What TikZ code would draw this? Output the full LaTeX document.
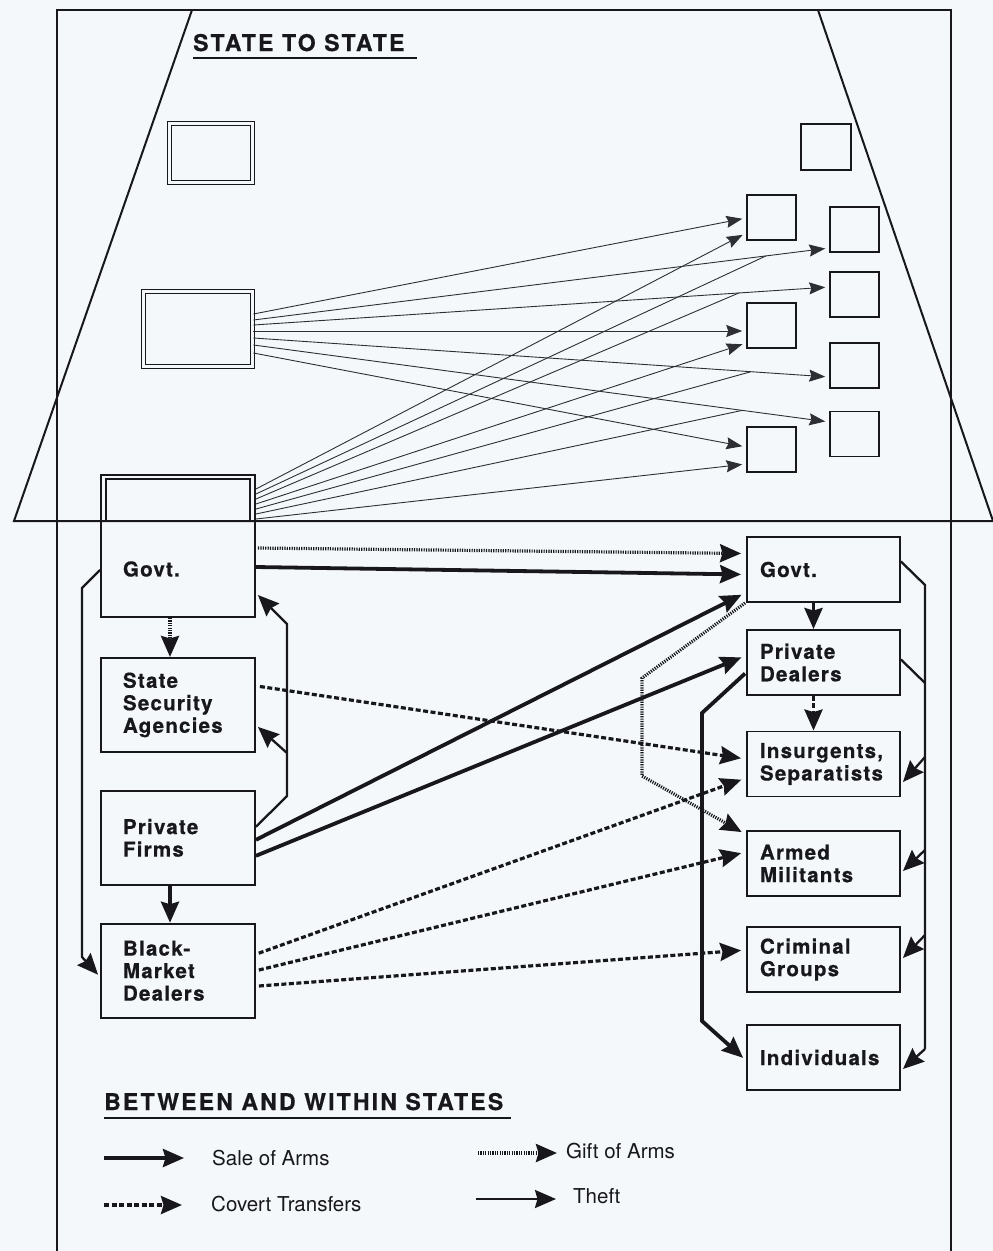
\documentclass[tikz,border=0pt]{standalone}
\usepackage{fontspec}
\setmainfont{TeX Gyre Heros}
\newfontfamily\labelfont[LetterSpace=6, FakeBold=0.6]{TeX Gyre Heros}
\newfontfamily\headfont[LetterSpace=9.5, FakeBold=0.6]{TeX Gyre Heros}
\usetikzlibrary{positioning, arrows.meta, calc}
\definecolor{Ink}{RGB}{24, 24, 28}
\definecolor{FanInk}{RGB}{45, 47, 52}
\definecolor{Paper}{RGB}{244, 248, 251}
\tikzset{
    % Page border and region outlines
    borderline/.style={
        draw=Ink,
        line width=1.2pt
    },
    regionline/.style={
        draw=Ink,
        line width=2pt
    },
    % Double ruled supplying state
    statebox/.style={
        draw=Ink,
        double=Paper,
        double distance=2.6pt,
        line width=1.4pt,
        rectangle,
        inner sep=0pt
    },
    % Small receiving state
    smallbox/.style={
        draw=Ink,
        line width=1.5pt,
        rectangle,
        inner sep=0pt,
        minimum width=49pt,
        minimum height=45pt
    },
    % Actor box (left column)
    actor/.style={
        draw=Ink,
        line width=1.9pt,
        rectangle,
        inner xsep=22pt,
        text width=110pt,
        minimum height=94pt,
        align=left,
        text=Ink,
        font=\labelfont\bfseries\fontsize{20.5}{22.5}\selectfont
    },
    % Actor box (right column)
    actorR/.style={
        actor,
        inner xsep=13pt,
        text width=127pt,
        minimum height=65pt
    },
    % Section headings
    heading/.style={
        inner sep=0pt,
        text=Ink,
        font=\headfont\bfseries\fontsize{23}{26}\selectfont
    },
    % Key texts
    keytext/.style={
        inner sep=0pt,
        text=Ink,
        font=\fontsize{20.5}{24}\selectfont
    },
    % Arrow heads
    bighead/.tip={Stealth[length=21pt, width=18pt, inset=2.5pt]},
    smallhead/.tip={Stealth[length=16pt, width=12pt, inset=2pt]},
    % State to state transfers
    fan/.style={
        draw=FanInk,
        line width=0.9pt,
        -smallhead,
        shorten >=4pt
    },
    fanline/.style={
        draw=FanInk,
        line width=0.9pt
    },
    % Sale of arms
    sale/.style={
        draw=Ink,
        line width=3.8pt,
        -bighead
    },
    % Covert transfers
    covert/.style={
        draw=Ink,
        line width=3.2pt,
        dash pattern=on 5pt off 2.5pt,
        -bighead
    },
    % Gift of arms
    gift/.style={
        draw=Ink,
        line width=3.2pt,
        dash pattern=on 1.2pt off 1.2pt,
        -bighead
    },
    % Theft
    theft/.style={
        draw=Ink,
        line width=2.3pt,
        -bighead
    },
    theftline/.style={
        draw=Ink,
        line width=2.3pt
    }
}

\begin{document}
\begin{tikzpicture}[x=1pt, y=-1pt]

    % background and page size
    \fill[Paper] (0,0) rectangle (993,1251);
    \useasboundingbox (0,0) rectangle (993,1251);

    % ==========================================
    % FRAME: BORDER AND STATE TO STATE TRAPEZIUM
    % ==========================================
    \draw[borderline] (57,1251) -- (57,10) -- (951,10) -- (951,1251);
    \draw[regionline] (192,10) -- (14,521) -- (993,521);
    \draw[regionline] (818,10) -- (993,521);

    % ==========================================
    % TOP DIAGRAM: STATE TO STATE
    % ==========================================
    \node[heading, anchor=base west] (title1) at (193,51) {STATE TO STATE};
    \draw[draw=Ink, line width=2pt] ($(title1.base west)+(0,7)$) -- ($(title1.base east)+(12,7)$);

    % Supplying states
    \node[statebox, minimum width=82.5pt, minimum height=59.5pt] (s1) at (211,153) {};
    \node[statebox, minimum width=109.5pt, minimum height=75.5pt] (s2) at (198,329) {};
    \node[draw=Ink, line width=1.9pt, minimum width=154pt, minimum height=46pt, inner sep=0pt] (s3) at (178,498) {};
    \draw[draw=Ink, line width=1.4pt] ($(s3.south west)+(6,-1)$) |- ($(s3.north)+(0,5)$) -| ($(s3.south east)+(-6,-1)$);

    % Receiving states
    \node[smallbox, minimum width=50pt, minimum height=46pt] (b0) at (826,147) {};
    \foreach \nm/\y in {a1/217.5, a2/325.5, a3/449.5}
        \node[smallbox] (\nm) at (771.5,\y) {};
    \foreach \nm/\y in {b1/229.5, b2/294.5, b3/365.5, b4/434}
        \node[smallbox] (\nm) at (854.5,\y) {};

    % Transfers from the second state
    \foreach \tgt/\ys/\yt in {a1/-15/0.5, a2/2/5.5, a3/24/-2.5}
        \draw[fan] ($(s2.east)+(0,\ys)$) -- ($(\tgt.west)+(0,\yt)$);
    \foreach \tgt/\ys/\yt/\p in {b1/-9/18.5/0.89, b2/-4/-7.5/0.843, b3/9/11.5/0.864, b4/16/-12/0.849}
        \draw[fan] ($(s2.east)+(0,\ys)$) -- coordinate[pos=\p] (j\tgt) ($(\tgt.west)+(0,\yt)$);

    % Transfers from the third state
    \foreach \tgt/\ys/\yt in {a1/-9/15.5, a2/6/17.5, a3/21/14.5}
        \draw[fan] ($(s3.east)+(0,\ys)$) -- ($(\tgt.west)+(0,\yt)$);
    \foreach \tgt/\ys in {b1/-4, b2/1, b3/11, b4/16}
        \draw[fanline] ($(s3.east)+(0,\ys)$) -- (j\tgt);

    % ==========================================
    % BOTTOM DIAGRAM: BETWEEN AND WITHIN STATES
    % ==========================================

    % Supplier side
    \node[actor, minimum height=96pt] (gl) at (178,569) {Govt.};
    \node[actor, below=39pt of gl] (ssa) {State\\Security\\Agencies};
    \node[actor, below=37pt of ssa] (pf) {Private\\Firms};
    \node[actor, below=37pt of pf] (bmd) {Black-\\Market\\Dealers};

    % Recipient side
    \node[actorR] (gr) at (823.5,569.5) {Govt.};
    \node[actorR] (pd) at (823.5,662.5) {Private\\Dealers};
    \node[actorR] (ins) at (823.5,764) {Insurgents,\\Separatists};
    \node[actorR] (am) at (823.5,863.5) {Armed\\Militants};
    \node[actorR] (cg) at (823.5,959.5) {Criminal\\Groups};
    \node[actorR] (ind) at (823.5,1057.5) {Individuals};

    % Govt. to Govt.
    \draw[gift, shorten <=2pt, shorten >=5pt] ($(gl.east)+(0,-21)$) -- ($(gr.west)+(0,-16)$);
    \draw[sale, shorten >=5pt] ($(gl.east)+(0,-2)$) -- ($(gr.west)+(0,5)$);

    % Within the supplier state
    \draw[gift] ($(gl.south)+(-8,0)$) -- ($(ssa.north)+(-8,0)$);
    \draw[sale] ($(pf.south)+(-8,0)$) -- ($(bmd.north)+(-8,0)$);
    \coordinate (tk1) at (287,796);
    \coordinate (tk2) at (287,624);
    \coordinate (tk3) at (287,753);
    \draw[theft] ($(pf.east)+(0,-11)$) -- (tk1) -- (tk2) -- ($(gl.east)+(2,26)$);
    \draw[theft] (tk3) -- ($(ssa.east)+(2,22)$);
    \coordinate (lk1) at (82,588);
    \coordinate (lk2) at (82,957);
    \draw[theft] ($(gl.west)+(0,1)$) -- (lk1) -- (lk2) -- ($(bmd.west)+(-2,4)$);

    % Private firms abroad
    \draw[sale, shorten >=5pt] ($(pf.east)+(0,2)$) -- ($(gr.west)+(0,23)$);
    \draw[sale, shorten >=5pt] ($(pf.east)+(0,18)$) -- ($(pd.west)+(0,-7)$);

    % Covert channels
    \draw[covert, shorten <=4pt, shorten >=5pt] ($(ssa.east)+(0,-19)$) -- ($(ins.west)+(0,-5)$);
    \foreach \ys/\tgt/\yt in {-16.5/ins/14, 0/am/-11.5, 15.5/cg/-9.5}
        \draw[covert, shorten <=3pt, shorten >=5pt] ($(bmd.east)+(0,\ys)$) -- ($(\tgt.west)+(0,\yt)$);

    % Within the recipient state
    \coordinate (gk1) at (642,678);
    \coordinate (gk2) at (642,776);
    \draw[gift, shorten >=5pt] ($(gr.south west)+(-1,0)$) -- (gk1) -- (gk2) -- ($(am.west)+(0,-29)$);
    \draw[sale] ($(gr.south)+(-10,0)$) -- ($(pd.north)+(-10,0)$);
    \draw[covert] ($(pd.south)+(-10,0)$) -- ($(ins.north)+(-10,0)$);
    \coordinate (sk1) at (702,713);
    \coordinate (sk2) at (702,1021);
    \draw[sale, shorten >=4pt] ($(pd.west)+(-1,11)$) -- (sk1) -- (sk2) -- ($(ind.west)+(0,3)$);

    % Theft on the recipient side
    \coordinate (rk1) at (925,585);
    \coordinate (rk2) at (925,683);
    \coordinate (rk6) at (925,1049);
    \draw[theftline] ($(gr.east)+(0,-8)$) -- (rk1) -- (rk6);
    \draw[theftline] ($(pd.east)+(0,-3)$) -- (rk2);
    \foreach \y/\tgt/\yt in {757/ins/18, 850/am/7.5, 935/cg/-1.5, 1049/ind/11.5}
        \draw[theft] (925,\y) -- ($(\tgt.east)+(2,\yt)$);

    % ==========================================
    % KEY
    % ==========================================
    \node[heading, anchor=base west] (title2) at (104,1110) {BETWEEN AND WITHIN STATES};
    \draw[draw=Ink, line width=2.4pt] ($(title2.base west)+(0,8)$) -- ($(title2.base east)+(8,8)$);

    \foreach \st/\xa/\xb/\ya/\xt/\yt/\txt [count=\i] in {
        sale/104/184/1158/212/1165/Sale of Arms,
        covert/104/182/1205/211/1211/Covert Transfers,
        gift/478/557/1153/566/1158/Gift of Arms,
        theft/476/556/1199/573/1203/Theft} {
        \coordinate (key\i a) at (\xa,\ya);
        \coordinate (key\i b) at (\xb,\ya);
        \draw[\st] (key\i a) -- (key\i b);
        \node[keytext, anchor=base west] (keytxt\i) at (\xt,\yt) {\txt};
    }

\end{tikzpicture}
\end{document}
